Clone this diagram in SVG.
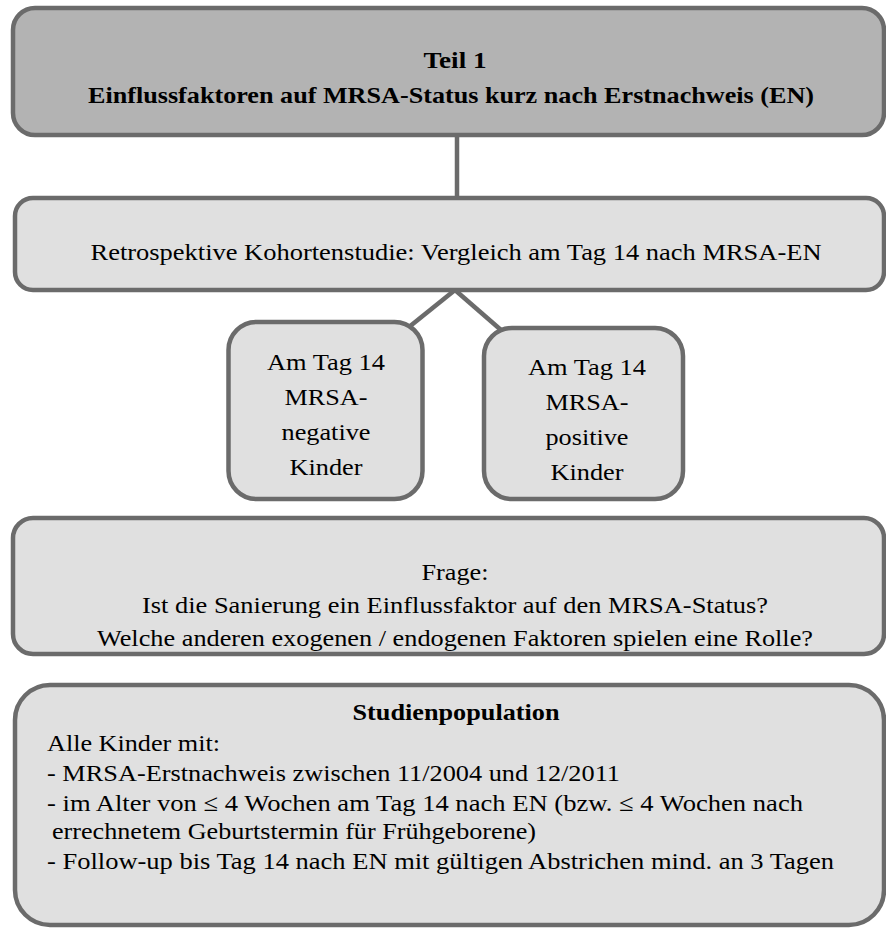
<svg xmlns="http://www.w3.org/2000/svg" width="886" height="928" viewBox="0 0 886 928">
<style>
.box{stroke:#6b6b6b;stroke-width:4.5}
.dark{fill:#b3b3b3}
.light{fill:#e0e0e0}
.conn{stroke:#6b6b6b;stroke-width:4.5;fill:none}
text{font-family:"Liberation Serif","Times New Roman",serif;font-size:24px;fill:#000}
.c{text-anchor:middle}
.b{font-weight:bold}
</style>
<rect width="886" height="928" fill="#fff"/>
<g id="connectors">
<line class="conn" x1="457" y1="136" x2="457" y2="198"/>
<line class="conn" x1="455" y1="290" x2="409" y2="327"/>
<line class="conn" x1="455" y1="290" x2="501" y2="330"/>
</g>
<g id="n1">
<rect class="box dark" x="13" y="8" width="871" height="127" rx="22"/>
<text class="c b" x="455" y="68" textLength="63" lengthAdjust="spacingAndGlyphs">Teil 1</text>
<text class="c b" x="451" y="103" textLength="726" lengthAdjust="spacingAndGlyphs">Einflussfaktoren auf MRSA-Status kurz nach Erstnachweis (EN)</text>
</g>
<g id="n2">
<rect class="box light" x="15" y="198" width="869" height="92" rx="18"/>
<text class="c" x="456" y="260" textLength="731" lengthAdjust="spacingAndGlyphs">Retrospektive Kohortenstudie: Vergleich am Tag 14 nach MRSA-EN</text>
</g>
<g id="n3">
<rect class="box light" x="228.5" y="322" width="194" height="177" rx="28"/>
<text class="c" x="326" y="370" textLength="118" lengthAdjust="spacingAndGlyphs">Am Tag 14</text>
<text class="c" x="326" y="405" textLength="83" lengthAdjust="spacingAndGlyphs">MRSA-</text>
<text class="c" x="326" y="440" textLength="89" lengthAdjust="spacingAndGlyphs">negative</text>
<text class="c" x="326" y="475" textLength="73" lengthAdjust="spacingAndGlyphs">Kinder</text>
</g>
<g id="n4">
<rect class="box light" x="484" y="328" width="199" height="171" rx="28"/>
<text class="c" x="587" y="375" textLength="118" lengthAdjust="spacingAndGlyphs">Am Tag 14</text>
<text class="c" x="587" y="410" textLength="83" lengthAdjust="spacingAndGlyphs">MRSA-</text>
<text class="c" x="587" y="445" textLength="83" lengthAdjust="spacingAndGlyphs">positive</text>
<text class="c" x="587" y="480" textLength="73" lengthAdjust="spacingAndGlyphs">Kinder</text>
</g>
<g id="n5">
<rect class="box light" x="13" y="518" width="871" height="136" rx="20"/>
<text class="c" x="455" y="580" textLength="67" lengthAdjust="spacingAndGlyphs">Frage:</text>
<text class="c" x="455" y="613" textLength="626" lengthAdjust="spacingAndGlyphs">Ist die Sanierung ein Einflussfaktor auf den MRSA-Status?</text>
<text class="c" x="455" y="646" textLength="716" lengthAdjust="spacingAndGlyphs">Welche anderen exogenen / endogenen Faktoren spielen eine Rolle?</text>
</g>
<g id="n6">
<rect class="box light" x="15" y="685" width="869" height="240" rx="35"/>
<text class="c b" x="456" y="720" textLength="207" lengthAdjust="spacingAndGlyphs">Studienpopulation</text>
<text x="47" y="751" textLength="173" lengthAdjust="spacingAndGlyphs">Alle Kinder mit:</text>
<text x="47" y="781" textLength="573" lengthAdjust="spacingAndGlyphs">- MRSA-Erstnachweis zwischen 11/2004 und 12/2011</text>
<text x="47" y="811" textLength="756" lengthAdjust="spacingAndGlyphs">- im Alter von ≤ 4 Wochen am Tag 14 nach EN (bzw. ≤ 4 Wochen nach</text>
<text x="52" y="839" textLength="484" lengthAdjust="spacingAndGlyphs">errechnetem Geburtstermin für Frühgeborene)</text>
<text x="47" y="869" textLength="787" lengthAdjust="spacingAndGlyphs">- Follow-up bis Tag 14 nach EN mit gültigen Abstrichen mind. an 3 Tagen</text>
</g>
</svg>
